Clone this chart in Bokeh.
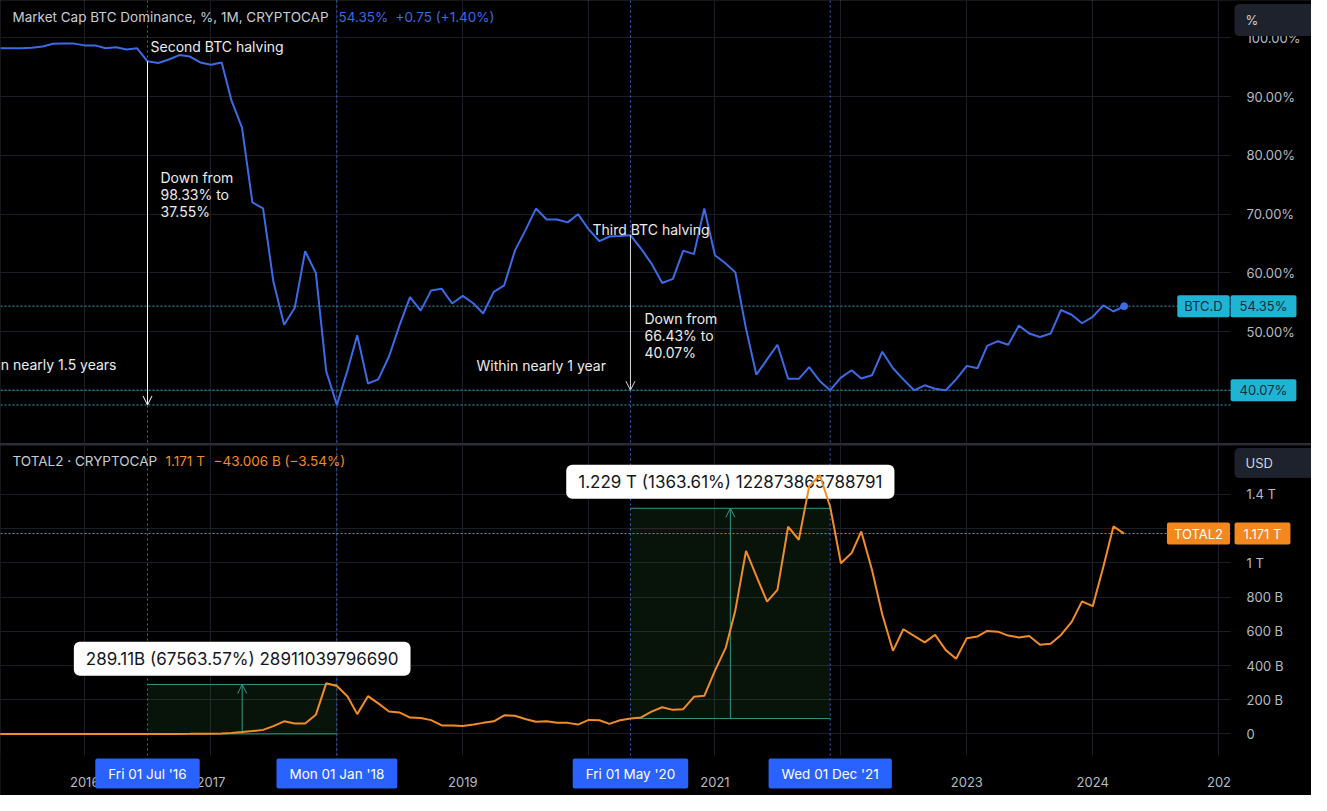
import pandas as pd
from bokeh.plotting import figure
from bokeh.layouts import column
from bokeh.models import (Span, Label, Arrow, OpenHead, FixedTicker, PrintfTickFormatter,
                          Grid, DatetimeTickFormatter, ColumnDataSource)
from bokeh.embed import file_html
from bokeh.resources import INLINE

FONT = "Inter"

# ---------------- data ----------------
months = pd.date_range("2015-05-01", periods=108, freq="MS")

btc_dominance = [
    98.2, 98.2, 98.2, 98.3, 98.5, 98.97, 99.0, 99.0,                      # 2015 May-Dec
    98.7, 98.7, 98.2, 98.4, 98.0, 98.2, 96.0, 95.7, 96.3, 97.05, 96.8, 95.8,  # 2016
    95.4, 95.8, 89.4, 84.7, 72.0, 71.0, 58.5, 51.2, 54.1, 63.7, 60.0, 43.3,   # 2017
    37.55, 43.5, 49.4, 41.2, 41.9, 45.8, 51.0, 55.9, 53.6, 57.0, 57.3, 54.8,  # 2018
    56.1, 54.8, 53.1, 56.8, 57.9, 63.8, 67.2, 70.95, 69.1, 69.1, 68.6, 70.0,  # 2019
    67.4, 65.4, 66.2, 66.3, 66.43, 64.1, 61.6, 58.3, 59.0, 63.8, 63.2, 70.95, # 2020
    63.0, 61.6, 60.1, 50.5, 42.7, 45.3, 47.8, 42.0, 42.0, 44.0, 41.6, 40.07,  # 2021
    42.2, 43.45, 42.05, 42.6, 46.6, 43.8, 41.9, 40.05, 40.9, 40.3, 40.05, 41.9,  # 2022
    44.2, 43.8, 47.6, 48.4, 47.8, 51.05, 49.7, 49.1, 49.7, 53.7, 52.9, 51.45,  # 2023
    52.55, 54.5, 53.45, 54.35,                                              # 2024 Jan-Apr
]

total2_billion = [
    0.31, 0.33, 0.36, 0.34, 0.32, 0.35, 0.38, 0.40,                         # 2015 May-Dec
    0.41, 0.45, 0.52, 0.48, 0.46, 0.44, 0.43, 0.47, 0.55, 0.62, 0.70, 0.85, # 2016
    1.2, 2.5, 6, 11, 17, 24, 46, 74, 61, 61, 112, 296,                       # 2017
    280, 219, 116, 221, 179, 131, 126, 96, 93, 81, 50, 50,                   # 2018
    46, 55, 65, 74, 109, 107, 88, 72, 74, 65, 65, 55,                        # 2019
    82, 80, 59, 80, 90, 97, 131, 156, 141, 145, 217, 223,                    # 2020
    370, 503, 722, 1070, 922, 773, 842, 1211, 1135, 1446, 1512, 1326,        # 2021
    998, 1057, 1183, 960, 698, 486, 612, 573, 535, 579, 490, 440,            # 2022
    560, 570, 602, 598, 575, 564, 573, 522, 527, 579, 655, 775,              # 2023
    747, 979, 1213, 1171,                                                    # 2024 Jan-Apr
]

marker_dates = ["2016-07-01", "2018-01-01", "2020-05-01", "2021-12-01"]
marker_labels = ["Fri 01 Jul '16", "Mon 01 Jan '18", "Fri 01 May '20", "Wed 01 Dec '21"]
year_ticks = [2016, 2017, 2018, 2019, 2020, 2021, 2022, 2023, 2024, 2025]
pct_ticks = [40, 50, 60, 70, 80, 90, 100]
usd_ticks = [0, 200, 400, 600, 800, 1000, 1200, 1400]
usd_tick_labels = ["0", "200 B", "400 B", "600 B", "800 B", "1 T", "1.2 T", "1.4 T"]

measure_start = ["2016-07-01", "2020-05-01"]
measure_end = ["2018-01-01", "2021-12-01"]
measure_low = [0.43, 90.11]
measure_high = [289.54, 1318.85]
measure_text = ["289.11B (67563.57%) 28911039796690", "1.229 T (1363.61%) 122873865788791"]

# ---------------- styling ----------------
BLUE = "#3d6ae6"
ORANGE = "#f28c28"
CYAN = "#20b4d4"
GRID = "#1b1e25"
TXT = "#b7bbc3"
HDR = "#c9ccd3"
NOTE = "#ececec"
DOT_BLUE = "#3b63e0"
DOT_CYAN = "#2f9fc7"
TEAL = "#2a9d8a"
DATEBOX = "#2962ff"

W = 1311
PLOT_W = 1230          # width of the data area (price scale to the right of it)
H1, H2 = 443, 350
H2_DATA = 310          # height of the data area of the lower pane


def ms(d):
    return pd.Timestamp(d).value / 1e6


MONTH_MS = 30.436875 * 86400000.0
T_REF = ms("2016-07-01")


def tx(px):  # reference-pixel x -> time
    return T_REF + (px - 147) / 10.5 * MONTH_MS


def vy(py):  # reference-pixel y -> percent (top panel)
    return 50 + (338 - py) / 6.0


def by(py):  # reference-pixel y -> billions (bottom panel)
    return (748 - py) / 0.175


XR = (tx(0), tx(W))
X_EDGE = tx(PLOT_W)
Y1R = (vy(452), vy(0))
B_PER_PX = (by(453) - by(770)) / H2_DATA
Y2_EDGE = by(770)
Y2R = (Y2_EDGE - (H2 - H2_DATA) * B_PER_PX, by(453))


def add_label(fig, x, y, text, color, size="14px", align="left", baseline="middle", **kw):
    fig.add_layout(Label(x=x, y=y, text=text, text_color=color, text_font=FONT,
                         text_font_size=size, text_align=align, text_baseline=baseline, **kw))


def box_label(fig, x, y, text, color, bg, pad, size="13px", align="center", radius=2):
    fig.add_layout(Label(x=x, y=y, text=text, text_color=color, text_font=FONT,
                         text_font_size=size, text_align=align, text_baseline="middle",
                         background_fill_color=bg, padding=pad, border_radius=radius))


def style_axis(ax):
    ax.axis_line_color = None
    ax.major_tick_line_color = None
    ax.minor_tick_line_color = None
    ax.major_label_text_color = TXT
    ax.major_label_text_font = FONT
    ax.major_label_text_font_size = "13px"


year_ms = [ms(f"{y}-01-01") for y in year_ticks]

src = ColumnDataSource(dict(x=months, btc=btc_dominance, total2=total2_billion))

# ---------------- top panel ----------------
p1 = figure(width=W, height=H1, x_axis_type="datetime",
            x_range=XR, y_range=Y1R,
            x_axis_location=None, y_axis_location="right",
            toolbar_location=None, output_backend="svg",
            background_fill_color="black", border_fill_color="black",
            outline_line_color=None, min_border=0)

t_pct = FixedTicker(ticks=pct_ticks)
p1.yaxis.ticker = t_pct
p1.ygrid.ticker = t_pct
p1.ygrid.grid_line_color = GRID
p1.add_layout(Grid(dimension=0, ticker=FixedTicker(ticks=year_ms), grid_line_color=GRID))
p1.yaxis.formatter = PrintfTickFormatter(format="%.2f%%")
for ax in p1.yaxis:
    style_axis(ax)
    ax.major_label_standoff = 10
    ax.fixed_location = X_EDGE

# hide grid behind the price scale
p1.quad(left=[X_EDGE], right=[XR[1]], bottom=[Y1R[0]], top=[Y1R[1]],
        fill_color="black", line_color=None)

for d in marker_dates:
    p1.add_layout(Span(location=ms(d), dimension="height", line_color=DOT_BLUE,
                       line_dash="2 3", line_width=1))

last_btc = btc_dominance[-1]
mlist = list(months)
i_jul16 = mlist.index(pd.Timestamp("2016-07-01"))
i_may20 = mlist.index(pd.Timestamp("2020-05-01"))
i_dec21 = mlist.index(pd.Timestamp("2021-12-01"))
min_btc = min(btc_dominance)

levels = [last_btc, btc_dominance[i_dec21], min_btc]
p1.segment(x0=[XR[0]] * 3, x1=[X_EDGE] * 3, y0=levels, y1=levels,
           line_color=DOT_CYAN, line_dash="2 2", line_width=1)

p1.line("x", "btc", source=src, line_color=BLUE, line_width=2)
p1.scatter([months[-1]], [last_btc], size=7, color=BLUE)

p1.add_layout(Arrow(x_start=ms("2016-07-01"), y_start=btc_dominance[i_jul16],
                    x_end=ms("2016-07-01"), y_end=min_btc,
                    line_color="white", line_width=1,
                    end=OpenHead(size=9, line_color="white", line_width=1)))
p1.add_layout(Arrow(x_start=ms("2020-05-01"), y_start=btc_dominance[i_may20],
                    x_end=ms("2020-05-01"), y_end=btc_dominance[i_dec21],
                    line_color="#d8d8d8", line_width=1,
                    end=OpenHead(size=9, line_color="#d8d8d8", line_width=1)))

add_label(p1, tx(12), vy(17), "Market Cap BTC Dominance, %, 1M, CRYPTOCAP", HDR, size="13.5px")
add_label(p1, tx(338), vy(17), "54.35%", BLUE, size="13.5px")
add_label(p1, tx(395), vy(17), "+0.75 (+1.40%)", BLUE, size="13.5px")
add_label(p1, tx(150), vy(47), "Second BTC halving", NOTE)
p1.add_layout(Label(x=tx(160), y=vy(172), text="Down from\n98.33% to\n37.55%",
                    text_color=NOTE, text_font=FONT, text_font_size="14px",
                    text_baseline="top", text_line_height=1.0))
add_label(p1, tx(116), vy(371), "Within nearly 1.5 years", NOTE, align="right")
add_label(p1, tx(592), vy(234), "Third BTC halving", NOTE)
p1.add_layout(Label(x=tx(644), y=vy(316), text="Down from\n66.43% to\n40.07%",
                    text_color=NOTE, text_font=FONT, text_font_size="14px",
                    text_baseline="top", text_line_height=1.0))
add_label(p1, tx(476), vy(372), "Within nearly 1 year", NOTE)

PAD_S = dict(left=7, right=7, top=3, bottom=3)
PAD_V = dict(left=9, right=9, top=3, bottom=3)
box_label(p1, tx(1203), last_btc, "BTC.D", "#0f2f3a", CYAN, PAD_S)
box_label(p1, tx(1263), last_btc, "54.35%", "#0f2f3a", CYAN, PAD_V)
box_label(p1, tx(1263), btc_dominance[i_dec21], "40.07%", "#0f2f3a", CYAN, PAD_V)
box_label(p1, tx(1234), vy(20), "%", "#d1d4dc", "#1e222d",
          dict(left=11, right=70, top=8, bottom=8), align="left", radius=5)

# ---------------- bottom panel ----------------
p2 = figure(width=W, height=H2, x_axis_type="datetime",
            x_range=p1.x_range, y_range=Y2R,
            y_axis_location="right",
            toolbar_location=None, output_backend="svg",
            background_fill_color="black", border_fill_color="black",
            outline_line_color=None, min_border=0)

t_usd = FixedTicker(ticks=usd_ticks)
p2.yaxis.ticker = t_usd
p2.ygrid.ticker = t_usd
p2.yaxis.major_label_overrides = {t: s for t, s in zip(usd_ticks, usd_tick_labels)}
t_year = FixedTicker(ticks=year_ms)
p2.xaxis.ticker = t_year
p2.xgrid.ticker = t_year
p2.xaxis.formatter = DatetimeTickFormatter(years="%Y", months="%Y", days="%Y",
                                           hours="%Y", minutes="%Y")
p2.xaxis.major_label_overrides = {year_ms[-1]: "202"}
p2.xgrid.grid_line_color = GRID
p2.ygrid.grid_line_color = GRID
for ax in p2.yaxis:
    style_axis(ax)
    ax.major_label_standoff = 10
    ax.fixed_location = X_EDGE
for ax in p2.xaxis:
    style_axis(ax)
    ax.major_label_standoff = 15
    ax.fixed_location = Y2_EDGE

# hide grid behind the price scale and the time scale
p2.quad(left=[X_EDGE, XR[0]], right=[XR[1], XR[1]], bottom=[Y2R[0], Y2R[0]],
        top=[Y2R[1], Y2_EDGE], fill_color="black", line_color=None)

p2.segment(x0=[ms(d) for d in marker_dates], x1=[ms(d) for d in marker_dates],
           y0=[Y2_EDGE - 5 * B_PER_PX] * len(marker_dates), y1=[Y2R[1]] * len(marker_dates),
           line_color=DOT_BLUE, line_dash="2 3", line_width=1)

last_t2 = total2_billion[-1]
p2.segment(x0=[XR[0]], x1=[X_EDGE], y0=[last_t2], y1=[last_t2],
           line_color=ORANGE, line_dash="2 2", line_width=1, line_alpha=0.85)

ms_start = [ms(d) for d in measure_start]
ms_end = [ms(d) for d in measure_end]
ms_mid = [(a + b) / 2 for a, b in zip(ms_start, ms_end)]
p2.quad(left=ms_start, right=ms_end, bottom=measure_low, top=measure_high,
        fill_color="#4caf50", fill_alpha=0.11, line_color=None)
p2.segment(x0=ms_start, x1=ms_end, y0=measure_low, y1=measure_low, line_color=TEAL, line_width=1)
p2.segment(x0=ms_start, x1=ms_end, y0=measure_high, y1=measure_high, line_color=TEAL, line_width=1)
for xm, lo, hi in zip(ms_mid, measure_low, measure_high):
    p2.add_layout(Arrow(x_start=xm, y_start=lo, x_end=xm, y_end=hi,
                        line_color=TEAL, line_width=1,
                        end=OpenHead(size=9, line_color=TEAL, line_width=1)))

for xm, txt, py in zip(ms_mid, measure_text, [671, 490]):
    box_label(p2, xm, by(py), txt, "#131722", "white",
              dict(left=12, right=12, top=7, bottom=7), size="17px", radius=6)

orange_line = p2.line("x", "total2", source=src, line_color=ORANGE, line_width=2)
orange_line.level = "overlay"

add_label(p2, tx(12), by(469), "TOTAL2 \u00b7 CRYPTOCAP", HDR, size="13.5px")
add_label(p2, tx(165), by(469), "1.171 T", ORANGE, size="13.5px")
add_label(p2, tx(213), by(469), "\u221243.006 B (\u22123.54%)", ORANGE, size="13.5px")

box_label(p2, tx(1198), last_t2, "TOTAL2", "white", "#f5871f", PAD_S)
box_label(p2, tx(1262), last_t2, "1.171 T", "white", "#f5871f", PAD_V)
box_label(p2, tx(1234), by(471), "USD", "#d1d4dc", "#1e222d",
          dict(left=11, right=50, top=7, bottom=7), align="left", radius=5)

for d, txt in zip(marker_dates, marker_labels):
    box_label(p2, ms(d), Y2_EDGE - 18 * B_PER_PX, txt, "white", DATEBOX,
              dict(left=13, right=13, top=7, bottom=7), size="13.5px", radius=2)

layout = column(p1, p2, spacing=2, styles={"background-color": "#2a2e39"})

open("out.html", "w").write(file_html(layout, INLINE))
